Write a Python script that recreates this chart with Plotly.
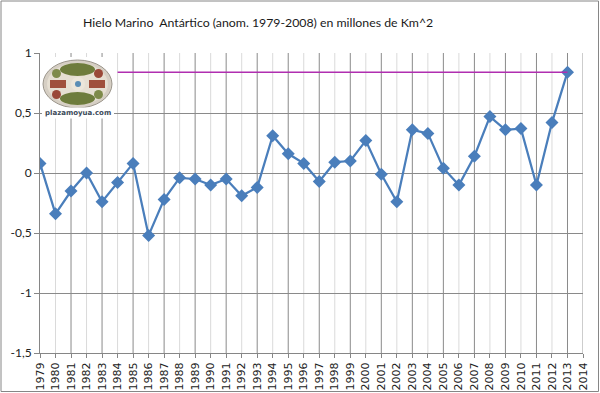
import plotly.graph_objects as go

years = list(range(1979, 2014))
anomalies = [0.08, -0.34, -0.15, 0.00, -0.24, -0.08, 0.08, -0.52, -0.22, -0.04,
             -0.05, -0.10, -0.05, -0.19, -0.12, 0.31, 0.16, 0.08, -0.07, 0.09,
             0.10, 0.27, -0.01, -0.24, 0.36, 0.33, 0.04, -0.10, 0.14, 0.47,
             0.36, 0.37, -0.10, 0.42, 0.84]
x_ticks = list(range(1979, 2015))
y_tickvals = [-1.5, -1, -0.5, 0, 0.5, 1]
y_ticktext = ["-1,5", "-1", "-0,5", "0", "0,5", "1"]
ref_start_year = 1984
title_text = "Hielo Marino  Antártico (anom. 1979-2008) en millones de Km^2"

W, H = 600, 393
L, R, T, B = 40, 17, 53, 40
XMIN, XMAX = 1979, 2014
YMIN, YMAX = -1.5, 1.0
pw, ph = W - L - R, H - T - B

def px2x(px):
    return XMIN + (px - L) / pw * (XMAX - XMIN)

def py2y(py):
    return YMAX - (py - T) / ph * (YMAX - YMIN)

blue = "#4a7ebb"

fig = go.Figure()
fig.add_trace(go.Scatter(
    x=years, y=anomalies, mode="lines+markers",
    line=dict(color=blue, width=2.25),
    marker=dict(symbol="diamond", size=10, color=blue),
    showlegend=False, hoverinfo="skip"))
fig.add_trace(go.Scatter(
    x=[ref_start_year, years[-1]], y=[anomalies[-1], anomalies[-1]],
    mode="lines", line=dict(color="#b02eb0", width=1.5),
    showlegend=False, hoverinfo="skip"))

shapes = []
# vertical gridlines: odd years darker, even years lighter
for yr in x_ticks[1:]:
    col = "#8a8a8a" if yr % 2 == 1 else "#dadada"
    if yr == XMAX:
        col = "#9a9a9a"
    shapes.append(dict(type="line", xref="x", yref="y", x0=yr, x1=yr, y0=YMIN, y1=YMAX,
                       line=dict(color=col, width=1), layer="below"))

def rect(x0, y0, x1, y1, fill, line=None, kind="rect", lw=0):
    return dict(type=kind, xref="x", yref="y", x0=px2x(x0), x1=px2x(x1),
                y0=py2y(y1), y1=py2y(y0), fillcolor=fill,
                line=dict(color=line or fill, width=lw), layer="above")

# logo (approximation of the plazamoyua.com badge)
shapes += [
    rect(42, 57, 114, 118, "white"),
    rect(43, 60, 112, 108, "#d6cfc4", "#9c968c", "circle", 1),
    rect(47, 63, 108, 105, "#e6dfd2", kind="circle"),
    rect(60, 63, 95, 76, "#6e7c3c", kind="circle"),
    rect(60, 92, 95, 105, "#6e7c3c", kind="circle"),
    rect(50, 80, 66, 88, "#a0503c"),
    rect(89, 80, 105, 88, "#a0503c"),
    rect(52, 69, 61, 78, "#7e8a4a", kind="circle"),
    rect(94, 69, 103, 78, "#9a4838", kind="circle"),
    rect(52, 90, 61, 99, "#9a4838", kind="circle"),
    rect(94, 90, 103, 99, "#7e8a4a", kind="circle"),
    rect(71, 77, 85, 91, "#ece6da", kind="circle"),
    rect(75, 81, 81, 87, "#5a8db5", kind="circle"),
]
# outer chart border
shapes.append(dict(type="rect", xref="paper", yref="paper",
                   x0=-(L - 1) / pw, x1=1 + (R - 1.5) / pw,
                   y0=-(B - 1.5) / ph, y1=1 + (T - 1) / ph,
                   line=dict(color="#868686", width=1), fillcolor="rgba(0,0,0,0)", layer="above"))

annotations = [
    dict(text=title_text, xref="paper", yref="paper",
         x=(258 - L) / pw, y=1 + (T - 22) / ph, xanchor="center", yanchor="middle",
         showarrow=False, font=dict(family="Lato", size=12.3, color="#1a1a1a")),
    dict(text="<b>plazamoyua.com</b>", xref="x", yref="y",
         x=px2x(78), y=py2y(113), xanchor="center", yanchor="middle",
         showarrow=False, font=dict(family="DejaVu Sans", size=7, color="#3b4a5a"),
         bgcolor="white"),
]

fig.update_layout(
    width=W, height=H, margin=dict(l=L, r=R, t=T, b=B, autoexpand=False),
    paper_bgcolor="white", plot_bgcolor="white",
    shapes=shapes, annotations=annotations, showlegend=False,
    xaxis=dict(range=[XMIN, XMAX], tickvals=x_ticks, ticktext=[str(v) for v in x_ticks],
               tickangle=-90, showgrid=False, zeroline=False,
               showline=True, linecolor="#868686", linewidth=1,
               ticks="outside", ticklen=4, tickcolor="#868686",
               tickfont=dict(family="DejaVu Sans", size=11, color="#222")),
    yaxis=dict(range=[YMIN, YMAX], tickvals=y_tickvals, ticktext=y_ticktext,
               showgrid=True, gridcolor="#8a8a8a", gridwidth=1, zeroline=False,
               showline=True, linecolor="#868686", linewidth=1,
               ticks="outside", ticklen=5, tickcolor="#868686",
               tickfont=dict(family="Lato", size=12, color="#222")),
)

fig.write_html("out.html", config={"displayModeBar": False},
               post_script="document.body.style.margin='0';document.body.style.overflow='hidden';")
